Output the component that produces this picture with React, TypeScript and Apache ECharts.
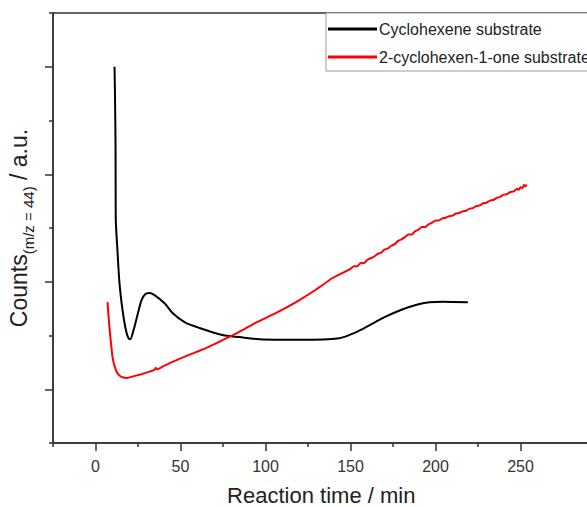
import React, { useEffect, useRef } from "react";
import * as echarts from "echarts";

const seriesNames = ["Cyclohexene substrate", "2-cyclohexen-1-one substrate"];

const xLabelValues = [0, 50, 100, 150, 200, 250];
const xMinorValues = [-25, 25, 75, 125, 175, 225];
const yMajorValues = [1, 3, 5, 7];
const yMinorValues = [0, 2, 4, 6, 8];

const cyclohexene: [number, number][] = [
  [11.2, 7.0], [11.5, 6.38], [11.8, 5.45], [11.9, 4.2], [12.9, 3.59], [14.1, 2.98],
  [15.9, 2.47], [17.6, 2.14], [19.2, 1.96], [20.4, 1.93], [22.2, 2.08], [24.7, 2.38],
  [27.1, 2.66], [29.4, 2.77], [31.8, 2.79], [34.7, 2.75], [40.6, 2.6], [45.3, 2.42],
  [52.4, 2.25], [61.2, 2.14], [74.7, 2.01], [84.7, 1.97], [96.5, 1.93], [120, 1.92],
  [143.5, 1.95], [152.4, 2.05], [159.4, 2.16], [170, 2.34], [180, 2.48], [190, 2.58],
  [196.5, 2.62], [204, 2.63], [219, 2.62],
];

const cyclohexenone: [number, number][] = [
  [7.1, 2.62], [7.6, 2.38], [8.2, 2.15], [8.8, 1.95], [9.4, 1.77], [10.0, 1.6], [11.2, 1.43],
  [12.9, 1.3], [15.3, 1.23], [18.8, 1.21], [22, 1.24], [25.9, 1.27], [30, 1.31], [34.7, 1.36],
  [35.5, 1.4], [36.2, 1.37], [40, 1.43], [45.3, 1.51], [55, 1.64], [65.3, 1.77], [75, 1.92],
  [83.5, 2.05], [95, 2.25], [108, 2.45], [120, 2.66], [130, 2.86], [139.4, 3.07], [145, 3.16],
  [150, 3.24], [152, 3.29], [154, 3.29], [156, 3.35], [158, 3.35], [160, 3.41], [162, 3.44],
  [164, 3.47], [166, 3.52], [168, 3.54], [170, 3.6], [172, 3.62], [174, 3.67], [176, 3.7],
  [178, 3.76], [180, 3.79], [182, 3.83], [184, 3.88], [186, 3.88], [188, 3.94], [190, 3.97],
  [192, 4.02], [194, 4.02], [196, 4.07], [198, 4.1], [200, 4.14], [202, 4.14], [204, 4.18],
  [206, 4.19], [208, 4.22], [210, 4.23], [212, 4.27], [214, 4.28], [216, 4.31], [218, 4.32],
  [220, 4.36], [222, 4.37], [224, 4.41], [226, 4.42], [228, 4.46], [230, 4.47], [232, 4.51],
  [234, 4.52], [236, 4.56], [238, 4.58], [240, 4.62], [242, 4.63], [244, 4.67], [246, 4.68],
  [248, 4.73], [249, 4.71], [250, 4.76], [251, 4.74], [252, 4.8], [253, 4.77], [253.5, 4.81],
];

const FONT = "'Liberation Sans', Arial, sans-serif";
const AXIS_COLOR = "#333";

export default function App() {
  const ref = useRef<HTMLDivElement>(null);
  useEffect(() => {
    if (!ref.current) return;
    const chart = echarts.init(ref.current, undefined, { renderer: "svg" });
    const gridBox = { left: 53, top: 13, width: 552.5, height: 430, outerBoundsMode: "none", containLabel: false };
    chart.setOption({
      animation: false,
      backgroundColor: "#fff",
      textStyle: { fontFamily: FONT },
      grid: [
        { ...gridBox, show: true, borderColor: AXIS_COLOR, borderWidth: 1.5, backgroundColor: "transparent" },
        { ...gridBox, show: false },
      ],
      legend: {
        orient: "vertical",
        left: 326,
        top: 13,
        padding: [8, 8, 6, 2],
        itemGap: 12,
        itemWidth: 49,
        itemHeight: 3,
        icon: "rect",
        borderColor: "#999",
        borderWidth: 1,
        backgroundColor: "#fff",
        textStyle: { fontSize: 16, color: "#222", fontFamily: FONT, padding: [0, 0, 0, -3] },
        data: seriesNames,
      },
      xAxis: [
        {
          type: "value",
          gridIndex: 0,
          min: -25,
          max: 300,
          axisLine: { show: true, onZero: false, lineStyle: { color: AXIS_COLOR, width: 1.5 } },
          axisTick: { show: true, inside: false, length: 8, customValues: xLabelValues, lineStyle: { color: AXIS_COLOR, width: 1.5 } },
          axisLabel: { show: true, customValues: xLabelValues, fontSize: 16, color: "#333", margin: 15, fontFamily: FONT },
          splitLine: { show: false },
          name: "Reaction time / min",
          nameLocation: "middle",
          nameGap: 42,
          nameTextStyle: { fontSize: 22, lineHeight: 20, color: "#222", fontFamily: FONT, padding: [0, 16, 0, 0] },
        },
        {
          type: "value",
          gridIndex: 1,
          min: -25,
          max: 300,
          axisLine: { show: false, onZero: false },
          axisTick: { show: true, inside: false, length: 4, customValues: xMinorValues, lineStyle: { color: AXIS_COLOR, width: 1.5 } },
          axisLabel: { show: false },
          splitLine: { show: false },
        },
      ],
      yAxis: [
        {
          type: "value",
          gridIndex: 0,
          min: 0,
          max: 8,
          axisLine: { show: true, onZero: false, lineStyle: { color: AXIS_COLOR, width: 1.5 } },
          axisTick: { show: true, inside: false, length: 8, customValues: yMajorValues, lineStyle: { color: AXIS_COLOR, width: 1.5 } },
          axisLabel: { show: false },
          splitLine: { show: false },
          name: "{a|Counts}{b|(m/z = 44)}{a| / a.u.}",
          nameLocation: "middle",
          nameRotate: 90,
          nameGap: 17,
          nameTextStyle: {
            color: "#222",
            fontFamily: FONT,
            rich: {
              a: { fontSize: 23, lineHeight: 29, verticalAlign: "top", color: "#222", fontFamily: FONT },
              b: { fontSize: 15, lineHeight: 15, verticalAlign: "bottom", color: "#222", fontFamily: FONT },
            },
          },
        },
        {
          type: "value",
          gridIndex: 1,
          min: 0,
          max: 8,
          axisLine: { show: false, onZero: false },
          axisTick: { show: true, inside: false, length: 4, customValues: yMinorValues, lineStyle: { color: AXIS_COLOR, width: 1.5 } },
          axisLabel: { show: false },
          splitLine: { show: false },
        },
      ],
      series: [
        {
          name: seriesNames[0],
          type: "line",
          xAxisIndex: 0,
          yAxisIndex: 0,
          data: cyclohexene,
          showSymbol: false,
          smooth: 0.3,
          lineStyle: { color: "#000", width: 2 },
          itemStyle: { color: "#000" },
        },
        {
          name: seriesNames[1],
          type: "line",
          xAxisIndex: 0,
          yAxisIndex: 0,
          data: cyclohexenone,
          showSymbol: false,
          smooth: 0.2,
          lineStyle: { color: "#ff0000", width: 2 },
          itemStyle: { color: "#ff0000" },
        },
      ],
    });
    return () => chart.dispose();
  }, []);
  return <div ref={ref} style={{ width: 587, height: 507, position: "absolute", left: 0, top: 0 }} />;
}
